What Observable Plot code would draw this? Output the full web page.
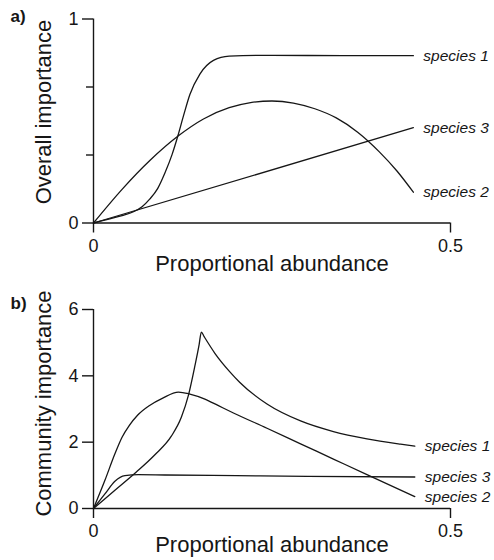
<!DOCTYPE html>
<html>
<head>
<meta charset="utf-8">
<script src="https://cdn.jsdelivr.net/npm/d3@7"></script>
<script src="https://cdn.jsdelivr.net/npm/@observablehq/plot@0.6"></script>
<style>
  body { margin: 0; background: #fff; }
  #chart { width: 494px; }
  #chart svg { display: block; }
</style>
</head>
<body>
<div id="chart"></div>
<script>
// Species names, in the order they are labelled at the right-hand end
const speciesNames = ["species 1", "species 2", "species 3"];

// Panel a: overall importance against proportional abundance, [abundance, importance]
const overallSp1 = [[0, 0], [0.02, 0.018], [0.04, 0.036], [0.056, 0.055], [0.068, 0.08], [0.079, 0.118],
  [0.09, 0.17], [0.1, 0.245], [0.11, 0.335], [0.118, 0.425], [0.126, 0.525], [0.135, 0.63],
  [0.149, 0.73], [0.168, 0.797], [0.19, 0.818], [0.25, 0.822], [0.35, 0.82], [0.448, 0.82]];
const overallSp2 = [[0, 0], [0.04, 0.165], [0.08, 0.31], [0.118, 0.425], [0.154, 0.51], [0.19, 0.565],
  [0.22, 0.59], [0.25, 0.598], [0.28, 0.588], [0.31, 0.56], [0.34, 0.515], [0.37, 0.445],
  [0.40, 0.35], [0.425, 0.255], [0.448, 0.151]];
const overallSp3 = [[0, 0], [0.448, 0.467]];

// Panel b: community importance against proportional abundance
const communitySp1 = [[0, 0], [0.03, 0.55], [0.06, 1.1], [0.086, 1.62], [0.109, 2.18], [0.123, 2.75],
  [0.133, 3.42], [0.142, 4.3], [0.148, 4.95], [0.151, 5.32], [0.155, 5.18], [0.17, 4.68], [0.191, 4.12],
  [0.205, 3.8], [0.243, 3.15], [0.29, 2.64], [0.336, 2.32], [0.383, 2.1], [0.43, 1.94], [0.45, 1.88]];
const communitySp2 = [[0, 0], [0.016, 0.85], [0.03, 1.65], [0.04, 2.15], [0.05, 2.5], [0.062, 2.82],
  [0.078, 3.1], [0.097, 3.33], [0.119, 3.51], [0.135, 3.45], [0.156, 3.3], [0.175, 3.1], [0.196, 2.88],
  [0.243, 2.42], [0.29, 1.95], [0.336, 1.49], [0.383, 1.02], [0.45, 0.36]];
const communitySp3 = [[0, 0], [0.016, 0.44], [0.03, 0.82], [0.044, 0.99], [0.063, 1.02], [0.1, 1.01],
  [0.2, 0.99], [0.3, 0.97], [0.45, 0.95]];

// Axis ticks
const abundanceTicks = [0, 0.5];
const overallTicks = [0, 1];
const overallMinorTicks = [1 / 3, 2 / 3];
const communityTicks = [0, 2, 4, 6];

const ink = "#161616";
const font = "'Liberation Sans', Arial, Helvetica, sans-serif";

const rows = (series) =>
  series.flatMap((pairs, i) => pairs.map(([x, y]) => ({species: speciesNames[i], x, y})));

const overall = rows([overallSp1, overallSp2, overallSp3]);
const community = rows([communitySp1, communitySp2, communitySp3]);

function panel({data, letter, yLabel, yDomain, yTicks, yMinorTicks, marginTop, marginBottom,
                yLabelDy, xLabelDy, letterDy}) {
  const marks = [
    // axis lines along the frame's left and bottom edges
    Plot.ruleX([0], {stroke: ink, strokeWidth: 1.4}),
    Plot.ruleY([0], {stroke: ink, strokeWidth: 1.4}),
    Plot.axisY({ticks: yTicks, tickSize: 11, tickPadding: 4, tickFormat: (d) => String(d),
      fontSize: 18, label: null, stroke: ink, fill: ink, strokeWidth: 1.4}),
    Plot.axisX({ticks: abundanceTicks, tickSize: 10, tickPadding: 6, tickFormat: (d) => String(d),
      fontSize: 18, label: null, stroke: ink, fill: ink, strokeWidth: 1.4}),
    Plot.line(data, {x: "x", y: "y", z: "species", curve: "monotone-x", stroke: ink, strokeWidth: 1.3}),
    Plot.text(data, Plot.selectLast({x: "x", y: "y", z: "species", text: "species", dx: 10,
      textAnchor: "start", fontStyle: "italic", fontSize: 15.5, fill: ink})),
    Plot.text([yLabel], {text: (d) => d, frameAnchor: "left", rotate: -90, dx: -43, dy: yLabelDy,
      lineAnchor: "bottom", textAnchor: "middle", fontSize: 22, fill: ink}),
    Plot.text(["Proportional abundance"], {text: (d) => d, frameAnchor: "bottom", dy: xLabelDy,
      lineAnchor: "bottom", textAnchor: "middle", fontSize: 22, fill: ink}),
    Plot.text([letter], {text: (d) => d, frameAnchor: "top-left", dx: -83, dy: letterDy,
      lineAnchor: "bottom", textAnchor: "start", fontSize: 17, fontWeight: "bold", fill: ink})
  ];
  if (yMinorTicks) {
    marks.unshift(Plot.axisY({ticks: yMinorTicks, tickSize: 7, tickFormat: () => "", label: null,
      stroke: ink, strokeWidth: 1.4}));
  }
  return Plot.plot({
    width: 494,
    height: 280,
    marginLeft: 93,
    marginRight: 44,
    marginTop,
    marginBottom,
    style: {fontFamily: font, color: ink, background: "#fff", overflow: "visible"},
    x: {domain: [0, 0.5]},
    y: {domain: yDomain},
    marks
  });
}

const chart = document.getElementById("chart");
chart.append(panel({
  data: overall, letter: "a)", yLabel: "Overall importance", yDomain: [0, 1],
  yTicks: overallTicks, yMinorTicks: overallMinorTicks,
  marginTop: 18.5, marginBottom: 57.5, yLabelDy: -9, xLabelDy: 47.5, letterDy: 2.5
}));
chart.append(panel({
  data: community, letter: "b)", yLabel: "Community importance", yDomain: [0, 6],
  yTicks: communityTicks, yMinorTicks: null,
  marginTop: 29, marginBottom: 52, yLabelDy: -5.5, xLabelDy: 43.5, letterDy: -1
}));
</script>
</body>
</html>
